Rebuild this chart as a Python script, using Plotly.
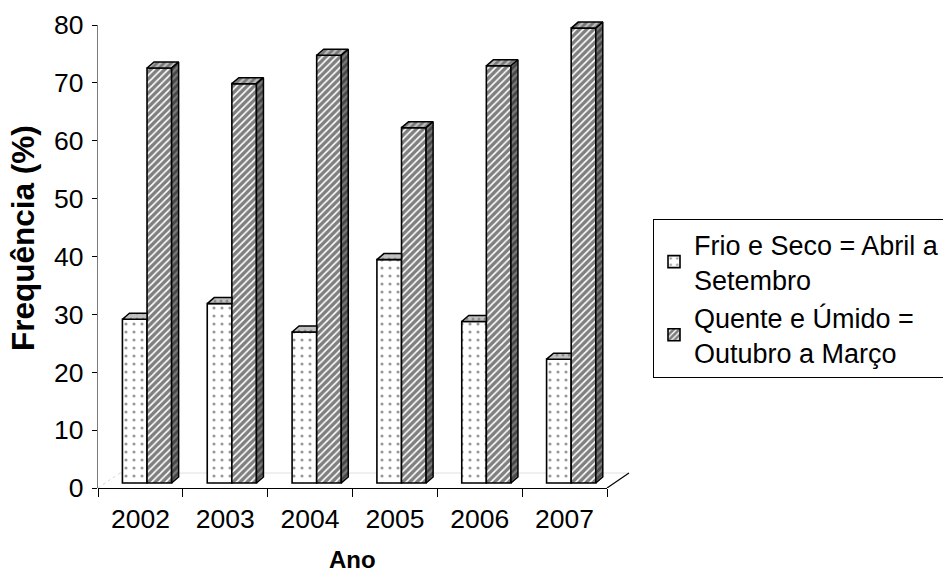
import plotly.graph_objects as go

# ---- data -------------------------------------------------------------
anos = ["2002", "2003", "2004", "2005", "2006", "2007"]
frio_seco = [28.3, 31.0, 26.1, 38.6, 27.9, 21.4]
quente_umido = [71.7, 69.0, 73.9, 61.4, 72.1, 78.6]
y_ticks = [0, 10, 20, 30, 40, 50, 60, 70, 80]

nome_frio = "Frio e Seco = Abril a<br>Setembro"
nome_quente = "Quente e Úmido =<br>Outubro a Março"

FONT = "Liberation Sans, Arial, sans-serif"

# ---- geometry (px) ----------------------------------------------------
W, H = 943, 573
LEFT, RIGHT, TOP, BOTTOM = 98, 632, 16, 488
AXIS_X_END = 607   # right end of the category axis
AXIS_Y_END = 25    # top end of the value axis

n = len(anos)
px_x = (AXIS_X_END - LEFT) / n              # px per category
px_y = (BOTTOM - AXIS_Y_END) / y_ticks[-1]  # px per value unit
x_lo = -0.5
x_hi = x_lo + (RIGHT - LEFT) / px_x
y_hi = (BOTTOM - TOP) / px_y


def ux(px):
    return px / px_x


def uy(px):
    return px / px_y


# oblique offsets giving the 3-D look
front_dx, front_dy = ux(6.6), uy(5)     # bar front plane behind the axis plane
depth_dx, depth_dy = ux(7), uy(6)       # bar depth
floor_dx, floor_dy = ux(22), uy(15)     # floor depth
bar_w = 0.29

xs = [i + front_dx for i in range(n)]


def polys(shapes):
    xx, yy = [], []
    for pts in shapes:
        for a, b in pts + [pts[0]]:
            xx.append(a)
            yy.append(b)
        xx.append(None)
        yy.append(None)
    return xx, yy


fig = go.Figure()

# front faces
fig.add_trace(go.Bar(
    x=xs, y=frio_seco, base=front_dy, offset=-bar_w, width=bar_w,
    name=nome_frio, hoverinfo="skip",
    marker=dict(color="white", line=dict(color="black", width=1.6),
                pattern=dict(shape=".", fgcolor="#333333", bgcolor="white",
                             size=8, solidity=0.12)),
))
fig.add_trace(go.Bar(
    x=xs, y=quente_umido, base=front_dy, offset=0, width=bar_w,
    name=nome_quente, hoverinfo="skip",
    marker=dict(color="white", line=dict(color="black", width=1.6),
                pattern=dict(shape="/", fgcolor="black", bgcolor="white",
                             size=5, solidity=0.68)),
))

# top faces of the front series (right part hidden by the taller neighbour)
frio_tops = []
for i, v in enumerate(frio_seco):
    xl, xr, t = xs[i] - bar_w, xs[i], v + front_dy
    frio_tops.append([(xl, t), (xr, t), (xr, t + depth_dy),
                      (xl + depth_dx, t + depth_dy)])

quente_tops, quente_sides = [], []
for i, v in enumerate(quente_umido):
    xl, xr, t = xs[i], xs[i] + bar_w, v + front_dy
    quente_tops.append([(xl, t), (xr, t), (xr + depth_dx, t + depth_dy),
                        (xl + depth_dx, t + depth_dy)])
    quente_sides.append([(xr, front_dy), (xr, t),
                         (xr + depth_dx, t + depth_dy),
                         (xr + depth_dx, front_dy + depth_dy)])

face_styles = [
    (frio_tops, dict(shape=".", fgcolor="#555555", bgcolor="#c0c0c0",
                     size=6, solidity=0.2)),
    (quente_tops, dict(shape="/", fgcolor="#333333", bgcolor="#bdbdbd",
                       size=5, solidity=0.55)),
    (quente_sides, dict(shape="/", fgcolor="#111111", bgcolor="#7a7a7a",
                        size=5, solidity=0.55)),
]
for shapes, patt in face_styles:
    fx, fy = polys(shapes)
    fig.add_trace(go.Scatter(
        x=fx, y=fy, mode="lines", fill="toself",
        fillcolor=patt["bgcolor"], fillpattern=patt,
        line=dict(color="black", width=1.5),
        showlegend=False, hoverinfo="skip",
    ))

# invisible anchors so the framing axes get drawn
fig.add_trace(go.Scatter(x=list(range(n)), y=[0] * n, xaxis="x2", yaxis="y",
                         mode="markers", marker=dict(opacity=0),
                         showlegend=False, hoverinfo="skip"))
fig.add_trace(go.Scatter(x=[0] * len(y_ticks), y=y_ticks, xaxis="x", yaxis="y2",
                         mode="markers", marker=dict(opacity=0),
                         showlegend=False, hoverinfo="skip"))

# floor outline
x_end = n - 0.5
floor = [
    dict(x0=x_lo, y0=0, x1=x_lo + floor_dx, y1=floor_dy,
         line=dict(color="#d8d8d8", width=1, dash="dot")),
    dict(x0=x_lo + floor_dx, y0=floor_dy, x1=x_end + floor_dx, y1=floor_dy,
         line=dict(color="#e0e0e0", width=1)),
    dict(x0=x_end, y0=0, x1=x_end + floor_dx, y1=floor_dy,
         line=dict(color="black", width=1.2)),
]
for s in floor:
    fig.add_shape(type="line", xref="x", yref="y", layer="below", **s)

tick_font = dict(family=FONT, size=26.5, color="black")

fig.update_layout(
    width=W, height=H,
    margin=dict(l=LEFT, r=W - RIGHT, t=TOP, b=H - BOTTOM, autoexpand=False),
    paper_bgcolor="white", plot_bgcolor="rgba(0,0,0,0)",
    barmode="overlay",
    xaxis=dict(range=[x_lo, x_hi], visible=False, fixedrange=True),
    yaxis=dict(range=[0, y_hi], visible=False, fixedrange=True),
    xaxis2=dict(
        domain=[0, (AXIS_X_END - LEFT) / (RIGHT - LEFT)], anchor="y",
        range=[-0.5, n - 0.5], tickmode="array",
        tickvals=list(range(n)), ticktext=anos,
        ticks="outside", ticklen=7, tickcolor="rgba(0,0,0,0)",
        minor=dict(tickmode="array", tickvals=[i - 0.5 for i in range(n + 1)],
                   ticks="outside", ticklen=8, tickcolor="black", tickwidth=1.3),
        showline=True, linecolor="black", linewidth=1.3,
        showgrid=False, zeroline=False, tickfont=tick_font, fixedrange=True,
    ),
    yaxis2=dict(
        domain=[0, (BOTTOM - AXIS_Y_END) / (BOTTOM - TOP)], anchor="x",
        range=[0, y_ticks[-1]], tickmode="array", tickvals=y_ticks,
        ticks="outside", ticklen=5, tickcolor="black", tickwidth=1.3,
        showline=True, linecolor="#7a7a7a", linewidth=1.3,
        showgrid=False, zeroline=False, tickfont=tick_font,
        ticklabelstandoff=3, fixedrange=True,
    ),
    legend=dict(
        x=(653 - LEFT) / (RIGHT - LEFT), y=(BOTTOM - 219) / (BOTTOM - TOP),
        xanchor="left", yanchor="top",
        bordercolor="black", borderwidth=1, bgcolor="white",
        font=dict(family=FONT, size=27, color="black"),
        traceorder="normal",
    ),
    annotations=[
        dict(text="<b>Ano</b>", xref="paper", yref="paper",
             x=(352.5 - LEFT) / (RIGHT - LEFT), y=(BOTTOM - 559) / (BOTTOM - TOP),
             xanchor="center", yanchor="middle", showarrow=False,
             font=dict(family=FONT, size=24, color="black")),
        dict(text="<b>Frequência (%)</b>", xref="paper", yref="paper",
             x=(23 - LEFT) / (RIGHT - LEFT), y=(BOTTOM - 238) / (BOTTOM - TOP),
             xanchor="center", yanchor="middle", textangle=-90, showarrow=False,
             font=dict(family=FONT, size=31.5, color="black")),
    ],
)

fig.write_html("out.html")
